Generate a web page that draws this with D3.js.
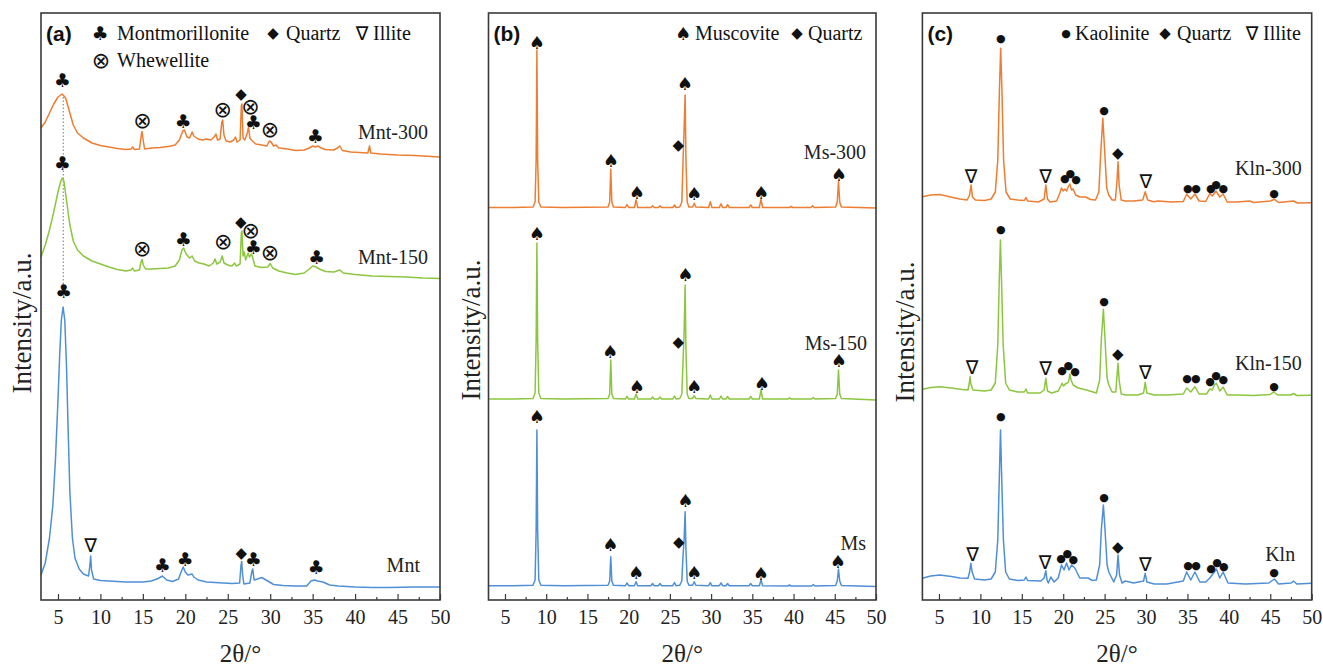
<!DOCTYPE html>
<html>
<head>
<meta charset="utf-8">
<script src="https://cdn.jsdelivr.net/npm/d3@7"></script>
<style>
  body { margin: 0; background: #fff; }
  svg { display: block; }
</style>
</head>
<body>
<script>
// ---- data: [2theta, intensity a.u. (stacked)] ----
const ticks = [5, 10, 15, 20, 25, 30, 35, 40, 45, 50];
const minorTicks = [7.5, 12.5, 17.5, 22.5, 27.5, 32.5, 37.5, 42.5, 47.5];

const mnt300 = [[3,472],[3.5,478],[4,487],[4.5,496],[5,503],[5.5,506],[5.9,502],[6.3,490],[6.8,475],[7.3,467],[8,462],[9,457],[10,454.5],[11,453],[12,451.5],[13,450.5],[13.6,451],[13.8,453],[14,450.5],[14.6,451],[14.8,464],[14.9,468.5],[15,462],[15.2,451],[16,452],[17,452.5],[18,453.5],[18.8,455],[19.3,460],[19.7,469],[19.9,470],[20.2,463],[20.5,462],[20.8,468],[21,464],[21.5,461],[22,460],[22.5,461],[23,460],[23.4,463],[23.6,466],[23.8,460],[24.1,461],[24.3,478],[24.4,480],[24.55,465],[24.8,459],[25.3,458],[25.7,460],[25.9,463],[26.1,458],[26.45,460],[26.6,494],[26.67,496],[26.8,462],[27,460],[27.3,467],[27.45,473],[27.6,462],[27.9,459],[28.3,456],[29,455],[29.6,454],[29.9,459],[30.1,458],[30.4,454],[30.7,455],[31,452],[32,451],[33,449.5],[34,450],[34.6,452],[35,454],[35.3,453],[35.6,454],[36,452],[36.5,450.5],[37.5,450],[38,452.5],[38.2,454],[38.5,449.5],[39.5,448],[40.5,447.5],[41.5,447],[41.7,454],[41.85,447],[43,446],[45,445],[47,444.5],[50,443]];
const mnt150 = [[3,343],[3.5,355],[4,370],[4.5,388],[5,408],[5.3,418],[5.5,422],[5.7,419],[6,400],[6.4,375],[6.8,359],[7.3,350],[8,344],[9,339],[10,336],[11,333],[12,330.5],[13,329],[13.6,330],[13.8,332],[14,329],[14.6,330],[14.75,337],[14.9,340.5],[15.05,335],[15.3,331],[16,331],[17,331.5],[18,332],[18.8,334],[19.3,340],[19.6,350],[19.8,352],[20.1,346],[20.5,342],[20.8,344],[21.1,339],[21.6,337],[22.2,336],[22.8,334],[23.3,337],[23.5,341],[23.7,336],[24.1,338],[24.35,344],[24.55,337],[25,335],[25.5,334],[25.8,337],[26,334],[26.45,336],[26.6,367],[26.67,369],[26.8,344],[26.95,348],[27.1,340],[27.4,347],[27.55,343],[27.8,346],[27.95,342],[28.2,334],[29,332.5],[29.7,333],[30,336.5],[30.3,332],[31,329],[32,327],[33,325.5],[34,327],[34.6,331],[35,334],[35.4,333],[35.8,331],[36.5,328.5],[37.5,328],[38.2,330],[38.6,327],[40,325.5],[42,324],[44,323.5],[46,323],[48,322],[50,321.5]];
const mnt = [[3,25],[3.5,37],[4,62],[4.4,95],[4.7,140],[5,200],[5.2,245],[5.4,280],[5.6,293],[5.8,280],[6,235],[6.2,170],[6.4,108],[6.7,62],[7,42],[7.5,31],[8,26],[8.6,24],[8.75,34],[8.85,44],[8.95,30],[9.2,21],[10,19.5],[11,19],[12,18.5],[13,18],[14,18],[15,18],[16,19],[16.8,21.5],[17.3,24],[17.8,20],[18.5,18.5],[19.2,21],[19.5,28],[19.75,33],[20,28],[20.3,25],[20.8,26],[21,23],[21.5,20],[22.5,18],[23.5,17.5],[24.5,17],[25.5,16.5],[26.4,17],[26.55,34],[26.64,38.5],[26.75,25],[26.9,16],[27.6,17],[27.85,29],[27.95,31],[28.1,20],[28.5,21],[29,22.5],[29.5,20],[30.4,15.5],[31.5,14.5],[33,14],[34.3,14],[34.8,19],[35.2,20],[35.6,19],[36.2,18],[37,15],[38,14],[40,13],[42,12.5],[44,12.5],[47,13],[50,13]];

const ms300 = [[3,392.5],[6,392.5],[8.4,393],[8.65,398],[8.78,440],[8.87,550],[8.96,440],[9.1,398],[9.35,393],[12,392.5],[17.5,393],[17.7,398],[17.83,430.7],[17.96,398],[18.15,393],[19.6,392.5],[19.8,395.5],[20,392.5],[20.7,392.5],[20.9,400],[21.1,392.5],[22.7,392.5],[22.9,394.3],[23.1,392.5],[23.6,392.5],[23.8,394.3],[24,392.5],[25.35,392.5],[25.55,395],[25.75,392.5],[26.2,393],[26.45,398],[26.6,440],[26.72,470],[26.85,505],[26.95,440],[27.1,398],[27.3,393],[27.75,393],[27.95,396.7],[28.15,393],[29.7,392.5],[29.9,398.3],[30.1,392.5],[31,392.5],[31.2,396.3],[31.4,392.5],[31.8,392.5],[32,395.3],[32.2,392.5],[34.6,392.5],[34.8,395],[35,392.5],[35.85,392.5],[36.05,400.7],[36.25,392.5],[39.5,392.5],[39.7,393.5],[39.9,392.5],[42.1,392.5],[42.3,394.3],[42.5,392.5],[45.1,393],[45.3,398],[45.45,418.3],[45.6,398],[45.8,393],[50,392]];
const ms150 = [[3,201],[6,201],[8.4,201.5],[8.65,207],[8.78,260],[8.87,357],[8.96,260],[9.1,207],[9.35,201.5],[12,201],[17.5,201.5],[17.7,206],[17.83,240],[17.96,206],[18.15,201.5],[19.6,201],[19.8,203.5],[20,201],[20.7,201],[20.9,206],[21.1,201],[22.7,201],[22.9,203],[23.1,201],[23.6,201],[23.8,203],[24,201],[25.35,201],[25.55,204],[25.75,201],[26.2,201.5],[26.45,206],[26.6,240],[26.72,265],[26.85,315],[26.95,250],[27.1,206],[27.3,201.5],[27.75,201.5],[27.95,204.3],[28.15,201.5],[29.7,201],[29.9,205],[30.1,201],[31,201],[31.2,204],[31.4,201],[31.8,201],[32,203.5],[32.2,201],[34.6,201],[34.8,203.5],[35,201],[35.85,201],[36.05,210],[36.25,201],[39.3,201],[39.5,202],[39.7,201],[42.2,201],[42.4,202.5],[42.6,201],[45.1,201.5],[45.3,206],[45.45,230],[45.6,206],[45.8,201.5],[50,200]];
const ms = [[3,14.3],[6,14.3],[8.4,14.8],[8.65,20],[8.78,70],[8.87,170],[8.96,70],[9.1,20],[9.35,14.8],[12,14.3],[17.5,14.8],[17.7,19],[17.83,43.3],[17.96,19],[18.15,14.8],[19.6,14.3],[19.8,17],[20,14.3],[20.7,14.3],[20.9,18.3],[21.1,14.3],[22.7,14.3],[22.9,16.5],[23.1,14.3],[23.6,14.3],[23.8,16.5],[24,14.3],[25.35,14.3],[25.55,17.5],[25.75,14.3],[26.2,14.8],[26.45,19],[26.6,45],[26.72,60],[26.85,88.3],[26.95,50],[27.1,19],[27.3,14.8],[27.75,14.8],[27.95,18.3],[28.15,14.8],[29.7,14.3],[29.9,17.3],[30.1,14.3],[31,14.3],[31.2,17],[31.4,14.3],[31.8,14.3],[32,16.5],[32.2,14.3],[34.6,14.3],[34.8,16.5],[35,14.3],[35.85,14.3],[36.05,20],[36.25,14.3],[39.3,14],[39.5,15],[39.7,14],[42.2,14],[42.4,15.5],[42.6,14],[45.1,14.5],[45.3,19],[45.45,30.7],[45.6,19],[45.8,14.5],[50,13.5]];

const kln300 = [[3,403.3],[4,405],[5.1,405.5],[6.4,403],[7.5,401],[8.4,400],[8.7,405],[8.87,415],[9.05,403],[9.4,400],[10.5,399.5],[11.3,401],[11.8,408],[12.1,440],[12.3,510],[12.45,551.7],[12.6,510],[12.8,440],[13.1,408],[13.6,401],[14.5,400],[15.3,399.5],[15.5,402.5],[15.7,399],[17,398],[17.7,401],[17.9,415],[18.1,401],[18.4,398],[19.2,399],[19.6,407],[19.8,412],[20,409],[20.2,411],[20.4,409],[20.6,413],[20.8,416],[21,410],[21.2,411],[21.5,405],[22,403],[22.7,403],[23.3,400.5],[23.9,400],[24.3,408],[24.55,450],[24.78,481.7],[25,450],[25.25,412],[25.5,405],[25.9,400],[26.3,400],[26.5,420],[26.62,438.3],[26.75,415],[27,400],[27.5,399],[28.5,399],[29.6,400],[29.9,408.3],[30.2,400],[30.9,398.3],[31.5,399],[33,398],[34.5,398.5],[34.9,405.7],[35.4,401],[35.9,406],[36.4,399],[37.2,398.5],[37.7,406.5],[38,404],[38.45,409],[38.9,403],[39.3,406],[39.8,398],[41,398],[42.5,399],[43,397.5],[45,399],[45.5,400.7],[46,397.5],[47.8,399],[48.3,397],[50,397.3]];
const kln150 = [[3,210.7],[4,212.5],[5.1,213.3],[6.5,212],[7.8,210.5],[8.5,210],[8.65,216],[8.75,223.3],[8.85,216],[9.1,210],[10.5,209],[11.3,210],[11.8,217],[12.1,255],[12.28,320],[12.42,360],[12.55,320],[12.75,255],[13.05,217],[13.5,210],[14.5,208],[15.3,208],[15.5,211],[15.7,207],[17.2,207],[17.7,210],[17.9,221.7],[18.1,209],[18.6,207],[19.4,209],[19.7,214],[19.85,216.7],[20.05,214],[20.25,216],[20.5,217],[20.65,218],[20.8,226],[20.95,220],[21.2,215],[21.8,212],[22.8,210],[24,207],[24.4,220],[24.6,260],[24.85,290.7],[25.05,260],[25.3,222],[25.5,215],[25.9,208],[26.35,208],[26.5,225],[26.62,236.7],[26.75,220],[27,206],[27.5,205],[29,205],[29.7,207],[29.9,217.7],[30.1,207],[31,205],[32.5,205],[34.5,206],[34.9,212],[35.4,208],[35.9,213.3],[36.4,206],[37.3,206],[37.7,211],[38,210],[38.25,215],[38.5,216.7],[38.9,209],[39.3,213],[39.8,205],[41,205],[43,204.5],[45,205.5],[45.4,208],[45.9,205],[47.5,205],[47.8,206.5],[48.2,204.5],[50,204.7]];
const kln = [[3,21.7],[4,24],[5.1,25],[6.5,23.5],[7.5,22],[8.5,21.7],[8.7,28],[8.85,36.7],[9,28],[9.3,21],[10.5,20],[11.3,21],[11.8,28],[12.1,60],[12.28,120],[12.43,170],[12.58,120],[12.78,60],[13.05,28],[13.5,21],[14.5,19.5],[15.3,20],[15.5,23],[15.7,19.5],[17.3,19],[17.7,22],[17.9,29.3],[18.05,20],[18.2,17],[18.5,23],[18.9,18],[19.4,22],[19.8,35],[20.1,30],[20.4,37],[20.7,30],[21,35],[21.4,32],[22,22],[23,22],[23.5,19.5],[24,20],[24.4,35],[24.6,70],[24.85,95],[25.05,70],[25.3,35],[25.5,28],[26.1,18],[26.45,25],[26.62,45],[26.8,25],[27.1,17],[27.5,19],[28.5,17],[29.7,19],[29.9,26.7],[30.1,18],[31,16],[32.5,16],[34.5,19],[34.9,28],[35.4,20],[35.9,28],[36.5,18],[37.2,18],[37.7,22],[38.25,28],[38.5,31],[38.9,22],[39.3,28],[39.9,17],[42,16],[44.8,17],[45.5,21],[46,16],[47.5,17],[47.8,19],[48.2,16],[50,16.7]];

// phase marks: [symbol, 2theta, intensity]
const mntMarks = [
  ["♣",5.5,520],["⊗",14.95,479.5],["♣",19.73,479],["⊗",24.4,490.7],["◆",26.56,506],["⊗",27.68,494],["♣",28.0,478.3],["⊗",29.97,470.7],["♣",35.3,464],
  ["♣",5.5,437.3],["⊗",14.93,351.7],["♣",19.76,360.7],["⊗",24.47,358.3],["◆",26.52,378.3],["⊗",27.7,370],["♣",28.0,352.7],["⊗",29.97,347.3],["♣",35.45,343.3],
  ["♣",5.65,309.3],["∇",8.85,55],["♣",17.29,35],["♣",19.96,40.7],["◆",26.6,47],["♣",28.0,40.7],["♣",35.4,33.3]
];
const msMarks = [
  ["♠",8.85,558],["♠",17.83,440],["♠",20.99,408],["◆",26.03,455],["♠",26.81,517],["♠",27.94,407],["♠",36.07,408],["♠",45.5,426],
  ["♠",8.85,366.7],["♠",17.75,248.3],["♠",20.99,214],["◆",26.03,258.3],["♠",26.88,326],["♠",27.94,214],["♠",36.16,216.7],["♠",45.5,240],
  ["♠",8.85,183.3],["♠",17.78,56],["♠",20.9,27.3],["◆",26.08,58.3],["♠",26.88,99.3],["♠",27.94,27.3],["♠",36.03,26.7],["♠",45.38,38.3]
];
const klnMarks = [
  ["∇",8.87,424],["●",12.46,562],["∇",17.89,424],["●",20.19,422],["●",20.86,426.7],["●",21.55,421],["●",24.93,490],["◆",26.59,447],["∇",29.97,419],["●",35.04,411.3],["●",36.04,411.3],["●",37.82,411.3],["●",38.46,416],["●",39.34,411.7],["●",45.46,407],
  ["∇",8.99,233.3],["●",12.46,370.7],["∇",17.89,231.7],["●",19.86,230],["●",20.62,234.7],["●",21.43,229],["●",24.93,298.3],["◆",26.59,245.7],["∇",29.92,227.7],["●",34.96,221.7],["●",36.01,221.7],["●",37.73,218.3],["●",38.46,224.3],["●",39.34,221],["●",45.46,214],
  ["∇",9.07,46.3],["●",12.46,184],["∇",17.81,38],["●",19.74,42],["●",20.5,47],["●",21.22,41],["●",24.93,102.3],["◆",26.59,52.7],["∇",29.92,36.3],["●",35.08,35],["●",36.04,35],["●",37.85,31.7],["●",38.57,38],["●",39.4,34],["●",45.46,27.7]
];

// sample names: [name, 2theta of right end, intensity]
const mntNames = [["Mnt-300",48.58,468.3],["Mnt-150",48.58,343.3],["Mnt",47.64,35]];
const msNames = [["Ms-300",48.8,448],["Ms-150",48.9,256.7],["Ms",48.8,57.3]];
const klnNames = [["Kln-300",48.8,432],["Kln-150",48.8,236.7],["Kln",48.0,46]];

const colors = ["#ED7D31", "#8CC63F", "#4F8FD6"];

// ---- layout ----
const W = 1323, H = 668;
const plotTop = 13, plotBottom = 600;
const serif = "'Liberation Serif', 'Times New Roman', serif";
const symFont = "'DejaVu Sans', sans-serif";
const symSize = {"♣": 19, "♠": 18, "◆": 15, "∇": 19, "⊗": 22, "●": 11};

const svg = d3.select("body").append("svg")
    .attr("width", W)
    .attr("height", H);

const panels = [
  { tag: "(a)", left: 41, right: 440, series: [mnt300, mnt150, mnt], marks: mntMarks, names: mntNames, ylab: [22, 323],
    legend: [[["♣",100,33],["Montmorillonite",117,33],["◆",273,33],["Quartz",286,33],["∇",362,33],["Illite",373,33]],
             [["⊗",101,60],["Whewellite",117,60]]] },
  { tag: "(b)", left: 488.5, right: 876, series: [ms300, ms150, ms], marks: msMarks, names: msNames, ylab: [471, 330],
    legend: [[["♠",683,33],["Muscovite",695,33],["◆",797,33],["Quartz",808,33]]] },
  { tag: "(c)", left: 922.4, right: 1311.7, series: [kln300, kln150, kln], marks: klnMarks, names: klnNames, ylab: [905, 332],
    legend: [[["●",1066,33],["Kaolinite",1075,33],["◆",1165,33],["Quartz",1177,33],["∇",1252,33],["Illite",1263,33]]] }
];

panels.forEach(function(p, pi) {
  let x = d3.scaleLinear().domain([3, 50]).range([p.left, p.right]);
  let y = d3.scaleLinear().domain([0, 587]).range([plotBottom, plotTop]);
  const g = svg.append("g");

  // dotted guide at the montmorillonite basal peak
  if (pi == 0) {
    g.append("line")
      .attr("x1", x(5.62)).attr("x2", x(5.62))
      .attr("y1", y(503)).attr("y2", y(312))
      .attr("stroke", "#777").attr("stroke-width", 1)
      .attr("stroke-dasharray", "1.5,2");
  }

  let line = d3.line().x(d => x(d[0])).y(d => y(d[1]));
  g.selectAll("path.trace")
    .data(p.series)
    .enter()
    .append("path")
    .attr("class", "trace")
    .attr("fill", "none")
    .attr("stroke", (d, i) => colors[i])
    .attr("stroke-width", 1.5)
    .attr("stroke-linejoin", "round")
    .attr("d", line);

  // frame
  g.append("rect")
    .attr("x", p.left).attr("y", plotTop)
    .attr("width", p.right - p.left).attr("height", plotBottom - plotTop)
    .attr("fill", "none").attr("stroke", "#3a3a3a").attr("stroke-width", 1.6);

  // bottom axis, ticks pointing inwards
  let xAxis = d3.axisBottom(x).tickValues(ticks).tickSize(-6).tickPadding(10);
  let ax = g.append("g").attr("transform", `translate(0,${plotBottom})`).call(xAxis);
  ax.select(".domain").remove();
  ax.selectAll(".tick line").attr("stroke", "#3a3a3a").attr("stroke-width", 1.2);
  ax.selectAll(".tick text")
    .attr("font-family", serif).attr("font-size", 20).attr("fill", "#222");
  let minor = d3.axisBottom(x).tickValues(minorTicks).tickSize(-3).tickFormat("");
  let mx = g.append("g").attr("transform", `translate(0,${plotBottom})`).call(minor);
  mx.select(".domain").remove();
  mx.selectAll(".tick line").attr("stroke", "#3a3a3a").attr("stroke-width", 1.2);

  // axis titles
  g.append("text")
    .attr("x", (p.left + p.right) / 2).attr("y", 662)
    .attr("text-anchor", "middle")
    .attr("font-family", serif).attr("font-size", 25).attr("fill", "#222")
    .text("2θ/°");
  g.append("text")
    .attr("transform", `translate(${p.ylab[0]},${p.ylab[1]}) rotate(-90)`)
    .attr("text-anchor", "middle").attr("dominant-baseline", "central")
    .attr("font-family", serif).attr("font-size", 27).attr("fill", "#222")
    .text("Intensity/a.u.");

  // phase markers
  g.selectAll("text.mark")
    .data(p.marks)
    .enter()
    .append("text")
    .attr("class", "mark")
    .attr("x", d => x(d[1])).attr("y", d => y(d[2]))
    .attr("text-anchor", "middle").attr("dominant-baseline", "central")
    .attr("font-family", symFont).attr("font-size", d => symSize[d[0]])
    .attr("fill", "#111")
    .text(d => d[0]);

  // sample names
  g.selectAll("text.name")
    .data(p.names)
    .enter()
    .append("text")
    .attr("class", "name")
    .attr("x", d => x(d[1])).attr("y", d => y(d[2]))
    .attr("text-anchor", "end").attr("dominant-baseline", "central")
    .attr("font-family", serif).attr("font-size", 20).attr("fill", "#222")
    .text(d => d[0]);

  // panel tag and legend
  g.append("text")
    .attr("x", p.left + 5).attr("y", 33)
    .attr("dominant-baseline", "central")
    .attr("font-family", "'Liberation Sans', Arial, sans-serif").attr("font-weight", "bold")
    .attr("font-size", 21).attr("fill", "#111")
    .text(p.tag);
  p.legend.forEach(function(row) {
    row.forEach(function(it) {
      let isSym = symSize[it[0]] !== undefined;
      g.append("text")
        .attr("x", it[1]).attr("y", it[2])
        .attr("text-anchor", isSym ? "middle" : "start")
        .attr("dominant-baseline", "central")
        .attr("font-family", isSym ? symFont : serif)
        .attr("font-size", isSym ? symSize[it[0]] : 20)
        .attr("fill", "#111")
        .text(it[0]);
    });
  });
});
</script>
</body>
</html>
